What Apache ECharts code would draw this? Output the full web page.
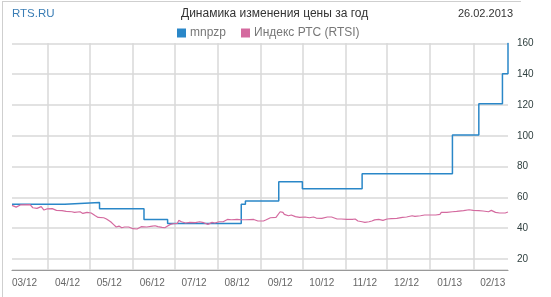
<!DOCTYPE html>
<html>
<head>
<meta charset="utf-8">
<script src="https://cdn.jsdelivr.net/npm/echarts@6/dist/echarts.min.js"></script>
<style>
  html, body { margin: 0; padding: 0; background: #fff; }
  #wrap { position: relative; width: 551px; height: 297px; overflow: hidden; }
  #frame { position: absolute; left: 2px; top: 1px; width: 518px; height: 300px;
           border-left: 1px solid #cfcfcf; border-top: 1px solid #cfcfcf; }
  #chart { position: absolute; left: 0; top: 0; width: 551px; height: 297px; }
</style>
</head>
<body>
<div id="wrap"><div id="frame"></div><div id="chart"></div></div>
<script>
// ---- data ----
const startDate = '2012-03-06';
const endDate = '2013-02-26';
const siteLabel = 'RTS.RU';
const titleText = 'Динамика изменения цены за год';
const dateLabel = '26.02.2013';
const seriesNames = ['mnpzp', 'Индекс РТС (RTSI)'];

// mnpzp: price level changes [date, value] (step line)
const mnpzp = [
  ['2012-03-06', 55.6], ['2012-04-13', 56.7], ['2012-05-08', 52.7], ['2012-06-09', 45.7],
  ['2012-06-26', 43.1], ['2012-08-18', 55.5], ['2012-08-21', 57.6], ['2012-09-14', 70.2],
  ['2012-10-01', 65.6], ['2012-11-13', 75.4], ['2013-01-17', 100.5], ['2013-02-05', 120.8],
  ['2013-02-22', 140.2], ['2013-02-26', 160.4]
];

// RTSI index (scaled) [date, value]
const rtsi = [
  ['2012-03-06', 54.8], ['2012-03-09', 53.7], ['2012-03-12', 55.1], ['2012-03-19', 55.3],
  ['2012-03-21', 53.3], ['2012-03-24', 52.9], ['2012-03-27', 54.0], ['2012-03-29', 51.8],
  ['2012-03-31', 52.5], ['2012-04-01', 51.6], ['2012-04-04', 52.7], ['2012-04-07', 51.6],
  ['2012-04-11', 51.4], ['2012-04-14', 50.9], ['2012-04-18', 50.7], ['2012-04-20', 50.3],
  ['2012-04-24', 50.7], ['2012-04-26', 49.6], ['2012-04-29', 50.3], ['2012-05-02', 49.9],
  ['2012-05-05', 48.1], ['2012-05-07', 47.0], ['2012-05-11', 46.8], ['2012-05-13', 46.0],
  ['2012-05-16', 44.2], ['2012-05-18', 42.5], ['2012-05-20', 40.8], ['2012-05-22', 41.4],
  ['2012-05-24', 40.3], ['2012-05-26', 40.8], ['2012-05-29', 40.8], ['2012-06-01', 39.7],
  ['2012-06-04', 39.5], ['2012-06-07', 41.0], ['2012-06-11', 40.8], ['2012-06-15', 41.4],
  ['2012-06-17', 41.6], ['2012-06-19', 41.0], ['2012-06-22', 40.5], ['2012-06-24', 40.3],
  ['2012-06-26', 41.4], ['2012-06-28', 42.5], ['2012-06-30', 42.9], ['2012-07-03', 43.1],
  ['2012-07-04', 45.1], ['2012-07-06', 44.2], ['2012-07-09', 43.4], ['2012-07-12', 43.8],
  ['2012-07-16', 43.6], ['2012-07-19', 44.2], ['2012-07-22', 43.6], ['2012-07-25', 42.5],
  ['2012-07-28', 43.8], ['2012-07-30', 43.4], ['2012-08-02', 44.2], ['2012-08-05', 44.2],
  ['2012-08-08', 45.7], ['2012-08-11', 45.5], ['2012-08-15', 45.7], ['2012-08-18', 45.5],
  ['2012-08-21', 45.5], ['2012-08-24', 45.6], ['2012-08-27', 45.7], ['2012-08-30', 44.7],
  ['2012-09-03', 44.7], ['2012-09-05', 45.5], ['2012-09-08', 46.8], ['2012-09-12', 47.0],
  ['2012-09-15', 50.7], ['2012-09-17', 50.3], ['2012-09-18', 49.0], ['2012-09-21', 48.1],
  ['2012-09-23', 48.6], ['2012-09-26', 47.5], ['2012-09-29', 47.0], ['2012-10-03', 47.3],
  ['2012-10-06', 46.8], ['2012-10-09', 47.3], ['2012-10-11', 46.6], ['2012-10-15', 46.4],
  ['2012-10-19', 47.3], ['2012-10-22', 47.3], ['2012-10-26', 46.0], ['2012-10-29', 46.0],
  ['2012-11-02', 45.7], ['2012-11-06', 45.7], ['2012-11-08', 46.0], ['2012-11-10', 44.7],
  ['2012-11-13', 44.2], ['2012-11-15', 43.8], ['2012-11-18', 44.2], ['2012-11-20', 44.7],
  ['2012-11-22', 45.4], ['2012-11-25', 45.7], ['2012-11-28', 45.1], ['2012-12-01', 46.0],
  ['2012-12-04', 46.2], ['2012-12-08', 46.4], ['2012-12-12', 47.0], ['2012-12-15', 47.3],
  ['2012-12-19', 48.1], ['2012-12-21', 47.7], ['2012-12-25', 48.1], ['2012-12-28', 48.6],
  ['2013-01-01', 48.6], ['2013-01-05', 48.6], ['2013-01-08', 49.0], ['2013-01-09', 50.3],
  ['2013-01-13', 50.3], ['2013-01-17', 50.7], ['2013-01-20', 50.9], ['2013-01-25', 51.4],
  ['2013-01-29', 52.0], ['2013-02-01', 51.6], ['2013-02-05', 51.4], ['2013-02-08', 51.2],
  ['2013-02-12', 50.7], ['2013-02-14', 51.6], ['2013-02-17', 50.3], ['2013-02-20', 49.9],
  ['2013-02-24', 49.9], ['2013-02-26', 50.5]
];

const yMin = 12.9, yMax = 160, yStep = 20;

// ---- build daily categories ----
function fmt(d) {
  const m = String(d.getMonth() + 1).padStart(2, '0');
  const dd = String(d.getDate()).padStart(2, '0');
  return d.getFullYear() + '-' + m + '-' + dd;
}
const days = [];
{
  const p = startDate.split('-').map(Number);
  const d = new Date(p[0], p[1] - 1, p[2]);
  while (fmt(d) <= endDate) { days.push(fmt(d)); d.setDate(d.getDate() + 1); }
}

const FONT = "'Liberation Sans', Arial, sans-serif";
const chart = echarts.init(document.getElementById('chart'), null, { renderer: 'canvas' });
chart.setOption({
  animation: false,
  backgroundColor: 'transparent',
  title: [
    { text: siteLabel, left: 7, top: 3, textStyle: { color: '#3a7db5', fontSize: 11.5, fontWeight: 'normal', fontFamily: FONT } },
    { text: titleText, left: 176, top: 3, textStyle: { color: '#333', fontSize: 12, fontWeight: 'normal', fontFamily: FONT } },
    { text: dateLabel, right: 33, top: 3, textStyle: { color: '#333', fontSize: 11, fontWeight: 'normal', fontFamily: FONT } }
  ],
  legend: {
    data: seriesNames, left: 172, top: 22, icon: 'rect', itemWidth: 9, itemHeight: 9, itemGap: 15,
    textStyle: { color: '#777', fontSize: 12, fontFamily: FONT, padding: [0, 0, 0, -1] }
  },
  grid: { left: 12, right: 43, top: 43.3, bottom: 27 },
  xAxis: {
    type: 'category', data: days, boundaryGap: false,
    axisLine: { lineStyle: { color: '#999', width: 1.2 } },
    axisTick: { show: false },
    splitLine: { show: true, interval: (i, v) => v.slice(8) === '01', lineStyle: { color: '#d8d8d8', width: 1.5 } },
    axisLabel: {
      interval: (i, v) => v.slice(8) === '15',
      formatter: v => v.slice(5, 7) + '/' + v.slice(2, 4),
      color: '#666', fontSize: 10, margin: 8, fontFamily: FONT
    }
  },
  yAxis: {
    type: 'value', position: 'right', min: yMin, max: yMax, splitNumber: 7,
    minInterval: yStep, maxInterval: yStep,
    axisLine: { show: false }, axisTick: { show: false },
    splitLine: { lineStyle: { color: '#d8d8d8', width: 1.5 } },
    axisLabel: {
      formatter: v => (Math.abs(v % yStep) < 1e-6 ? String(v) : ''),
      color: '#2f3f3f', fontSize: 10, margin: 9, fontFamily: FONT
    }
  },
  series: [
    { name: seriesNames[0], type: 'line', step: 'end', data: mnpzp, showSymbol: false, symbol: 'none',
      itemStyle: { color: '#2a87c8' }, lineStyle: { color: '#2a87c8', width: 1.5 } },
    { name: seriesNames[1], type: 'line', data: rtsi, showSymbol: false, symbol: 'none',
      itemStyle: { color: '#d46a9f' }, lineStyle: { color: '#d46a9f', width: 1.2 } }
  ]
});
</script>
</body>
</html>
